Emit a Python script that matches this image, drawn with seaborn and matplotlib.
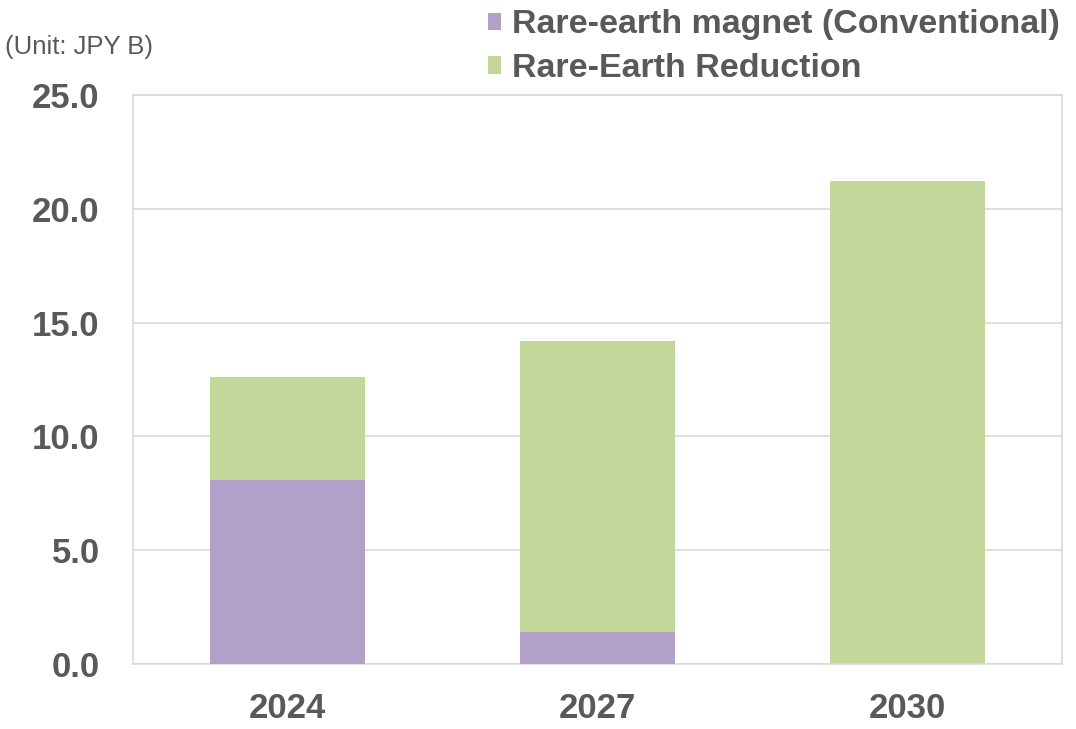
import pandas as pd
import matplotlib.pyplot as plt
import seaborn as sns

years = ['2024', '2027', '2030']
conventional = [8.1, 1.4, 0.0]
reduction = [4.5, 12.8, 21.2]

labels = ['Rare-earth magnet (Conventional)', 'Rare-Earth Reduction']
colors = ['#b1a0c7', '#c4d79b']
txt = '#595959'

sns.set_style('white')
plt.rcParams['font.family'] = ['Liberation Sans', 'DejaVu Sans']

df = pd.DataFrame({'year': years, 'conv': conventional, 'red': reduction})
df['total'] = df['conv'] + df['red']

fig = plt.figure(figsize=(10.76, 7.29), dpi=100)
ax = fig.add_axes([133 / 1076, 1 - 664 / 729, (1062 - 133) / 1076, (664 - 95) / 729])

# stacked: draw total first, conventional on top of it
sns.barplot(ax=ax, data=df, x='year', y='total', color=colors[1], width=0.5,
            saturation=1, label=labels[1], zorder=2, linewidth=0)
sns.barplot(ax=ax, data=df, x='year', y='conv', color=colors[0], width=0.5,
            saturation=1, label=labels[0], zorder=3, linewidth=0)

ax.set_ylim(0, 25)
ax.set_yticks([0, 5, 10, 15, 20, 25])
ax.set_yticklabels([f'{v:.1f}' for v in [0, 5, 10, 15, 20, 25]])
ax.yaxis.grid(True, color='#d9d9d9', linewidth=1.2, zorder=0)
ax.set_axisbelow(True)
for s in ax.spines.values():
    s.set_color('#d9d9d9')
    s.set_linewidth(1.2)

ax.tick_params(axis='both', length=0, labelsize=25, labelcolor=txt)
ax.tick_params(axis='y', pad=24)
ax.tick_params(axis='x', pad=20)
for lab in ax.get_xticklabels() + ax.get_yticklabels():
    lab.set_fontweight('bold')
ax.set_xlabel('')
ax.set_ylabel('')

h, l = ax.get_legend_handles_labels()
order = [l.index(labels[0]), l.index(labels[1])]
leg = ax.legend([h[i] for i in order], [l[i] for i in order],
                loc='lower right', bbox_to_anchor=(1.012, 0.995), frameon=False,
                handlelength=0.4, handleheight=0.4, handletextpad=0.3,
                labelspacing=0.38, borderaxespad=0, fontsize=24.5)
for t in leg.get_texts():
    t.set_color(txt)
    t.set_fontweight('bold')

fig.text(5 / 1076, 1 - 47 / 729, '(Unit: JPY B)', fontsize=18.5, color=txt,
         va='center', ha='left')

fig.savefig('out.png', dpi=100)
